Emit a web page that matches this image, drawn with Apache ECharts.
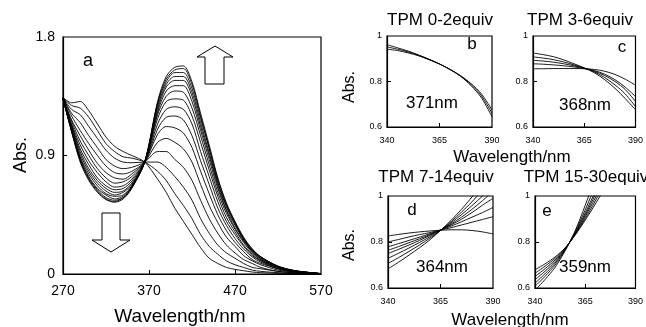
<!DOCTYPE html>
<html>
<head>
<meta charset="utf-8">
<script src="https://cdn.jsdelivr.net/npm/echarts@6/dist/echarts.min.js"></script>
<style>
  html, body { margin: 0; padding: 0; background: #fff; }
  #chart { width: 646px; height: 327px; }
</style>
</head>
<body>
<div id="chart"></div>
<script>
// panel a: full spectra during the titration
const mainWavelengths = [270, 280, 290, 300, 310, 320, 330, 340, 350, 365, 380, 390, 400, 410, 420, 430, 440, 450, 460, 470, 480, 490, 500, 520, 540, 570];
const mainSpectra = [
  [1.34, 1.30, 1.31, 1.24, 1.14, 1.04, 0.97, 0.93, 0.90, 0.85, 0.72, 0.62, 0.50, 0.40, 0.30, 0.20, 0.12, 0.08, 0.05, 0.035, 0.025, 0.015, 0.01, 0.005, 0.002, 0],
  [1.34, 1.28, 1.26, 1.19, 1.09, 0.99, 0.93, 0.89, 0.88, 0.85, 0.78, 0.71, 0.61, 0.52, 0.42, 0.30, 0.21, 0.15, 0.10, 0.07, 0.05, 0.03, 0.02, 0.01, 0.004, 0],
  [1.34, 1.25, 1.21, 1.12, 1.03, 0.94, 0.88, 0.85, 0.845, 0.85, 0.85, 0.81, 0.74, 0.66, 0.56, 0.42, 0.31, 0.22, 0.16, 0.12, 0.08, 0.05, 0.04, 0.02, 0.007, 0.001],
  [1.34, 1.22, 1.15, 1.05, 0.96, 0.87, 0.82, 0.80, 0.81, 0.85, 0.93, 0.93, 0.87, 0.81, 0.71, 0.56, 0.42, 0.31, 0.22, 0.16, 0.11, 0.08, 0.05, 0.02, 0.01, 0.001],
  [1.335, 1.20, 1.09, 0.99, 0.90, 0.82, 0.77, 0.76, 0.78, 0.85, 1.00, 1.03, 1.00, 0.95, 0.85, 0.68, 0.52, 0.39, 0.28, 0.21, 0.14, 0.10, 0.07, 0.03, 0.013, 0.001],
  [1.33, 1.17, 1.05, 0.94, 0.84, 0.77, 0.73, 0.72, 0.76, 0.85, 1.06, 1.12, 1.11, 1.07, 0.96, 0.78, 0.61, 0.45, 0.33, 0.24, 0.17, 0.11, 0.08, 0.04, 0.015, 0.002],
  [1.33, 1.16, 1.01, 0.90, 0.80, 0.73, 0.69, 0.70, 0.74, 0.85, 1.10, 1.19, 1.20, 1.17, 1.05, 0.86, 0.68, 0.50, 0.37, 0.27, 0.19, 0.13, 0.09, 0.04, 0.017, 0.002],
  [1.33, 1.14, 0.98, 0.86, 0.77, 0.70, 0.66, 0.67, 0.72, 0.85, 1.14, 1.25, 1.27, 1.25, 1.14, 0.93, 0.74, 0.55, 0.40, 0.30, 0.21, 0.14, 0.10, 0.04, 0.019, 0.002],
  [1.33, 1.13, 0.95, 0.83, 0.73, 0.67, 0.64, 0.65, 0.705, 0.85, 1.18, 1.31, 1.33, 1.32, 1.20, 1.00, 0.79, 0.59, 0.43, 0.32, 0.22, 0.15, 0.10, 0.05, 0.02, 0.002],
  [1.33, 1.12, 0.93, 0.80, 0.71, 0.65, 0.62, 0.63, 0.69, 0.85, 1.21, 1.35, 1.39, 1.38, 1.26, 1.05, 0.83, 0.62, 0.46, 0.34, 0.24, 0.16, 0.11, 0.05, 0.021, 0.002],
  [1.33, 1.11, 0.91, 0.78, 0.69, 0.63, 0.60, 0.62, 0.68, 0.85, 1.23, 1.39, 1.43, 1.43, 1.31, 1.09, 0.87, 0.65, 0.48, 0.35, 0.25, 0.17, 0.11, 0.05, 0.022, 0.003],
  [1.33, 1.10, 0.89, 0.76, 0.67, 0.61, 0.59, 0.60, 0.67, 0.85, 1.25, 1.42, 1.47, 1.47, 1.35, 1.12, 0.90, 0.67, 0.49, 0.37, 0.26, 0.17, 0.12, 0.055, 0.023, 0.003],
  [1.33, 1.09, 0.88, 0.74, 0.65, 0.60, 0.57, 0.59, 0.666, 0.85, 1.27, 1.44, 1.50, 1.50, 1.38, 1.15, 0.92, 0.69, 0.51, 0.38, 0.26, 0.18, 0.12, 0.056, 0.024, 0.003],
  [1.33, 1.09, 0.87, 0.73, 0.64, 0.58, 0.56, 0.58, 0.66, 0.85, 1.29, 1.46, 1.53, 1.53, 1.41, 1.18, 0.95, 0.70, 0.52, 0.39, 0.27, 0.18, 0.13, 0.058, 0.024, 0.003],
  [1.33, 1.08, 0.86, 0.72, 0.63, 0.57, 0.55, 0.58, 0.655, 0.85, 1.30, 1.48, 1.55, 1.56, 1.44, 1.20, 0.96, 0.72, 0.53, 0.39, 0.27, 0.19, 0.13, 0.059, 0.025, 0.003],
  [1.33, 1.08, 0.85, 0.71, 0.62, 0.565, 0.545, 0.57, 0.65, 0.85, 1.31, 1.50, 1.57, 1.58, 1.46, 1.22, 0.98, 0.73, 0.54, 0.40, 0.28, 0.19, 0.13, 0.06, 0.025, 0.003]
];
const mainXTicks = [270, 370, 470, 570];
const mainYTicks = [0, 0.9, 1.8];

// panels b-e: isosbestic region close-ups
const zoomWavelengths = [340, 345, 350, 355, 360, 365, 370, 375, 380, 385, 390];
const spectraB = [
  [0.962, 0.948, 0.934, 0.917, 0.898, 0.877, 0.853, 0.823, 0.782, 0.728, 0.645],
  [0.952, 0.942, 0.930, 0.915, 0.897, 0.877, 0.853, 0.824, 0.787, 0.737, 0.660],
  [0.942, 0.936, 0.926, 0.913, 0.896, 0.877, 0.853, 0.826, 0.791, 0.745, 0.675]
];
const spectraC = [
  [0.925, 0.918, 0.909, 0.895, 0.878, 0.860, 0.838, 0.808, 0.770, 0.725, 0.676],
  [0.908, 0.903, 0.896, 0.886, 0.873, 0.859, 0.842, 0.817, 0.785, 0.745, 0.690],
  [0.893, 0.890, 0.885, 0.878, 0.869, 0.858, 0.845, 0.826, 0.800, 0.765, 0.712],
  [0.878, 0.876, 0.873, 0.869, 0.864, 0.857, 0.848, 0.832, 0.808, 0.775, 0.734],
  [0.856, 0.856, 0.857, 0.857, 0.857, 0.856, 0.853, 0.845, 0.831, 0.810, 0.784]
];
const spectraD = [
  [0.826, 0.833, 0.839, 0.844, 0.848, 0.851, 0.853, 0.853, 0.850, 0.844, 0.835],
  [0.800, 0.811, 0.822, 0.832, 0.841, 0.852, 0.862, 0.874, 0.886, 0.898, 0.910],
  [0.779, 0.793, 0.807, 0.821, 0.836, 0.852, 0.869, 0.888, 0.908, 0.928, 0.950],
  [0.764, 0.780, 0.797, 0.814, 0.832, 0.852, 0.874, 0.899, 0.928, 0.960, 0.990],
  [0.750, 0.768, 0.787, 0.807, 0.829, 0.852, 0.878, 0.908, 0.942, 0.980, 1.020],
  [0.729, 0.751, 0.774, 0.798, 0.823, 0.851, 0.883, 0.919, 0.958, 1.000, 1.045],
  [0.707, 0.732, 0.759, 0.787, 0.817, 0.850, 0.888, 0.930, 0.975, 1.025, 1.070],
  [0.683, 0.712, 0.743, 0.775, 0.810, 0.850, 0.894, 0.942, 0.996, 1.050, 1.100]
];
const wavelengthsE = [340, 345, 350, 355, 360, 365, 370, 375, 380];
const spectraE = [
  [0.679, 0.705, 0.735, 0.775, 0.830, 0.895, 0.965, 1.040, 1.120],
  [0.664, 0.695, 0.729, 0.773, 0.832, 0.902, 0.978, 1.060, 1.140],
  [0.650, 0.684, 0.722, 0.771, 0.835, 0.910, 0.992, 1.080, 1.160],
  [0.636, 0.673, 0.715, 0.769, 0.838, 0.918, 1.006, 1.100, 1.190],
  [0.621, 0.662, 0.708, 0.767, 0.841, 0.927, 1.020, 1.120, 1.220],
  [0.607, 0.651, 0.700, 0.765, 0.845, 0.940, 1.045, 1.150, 1.250],
  [0.590, 0.637, 0.690, 0.762, 0.849, 0.960, 1.080, 1.190, 1.290]
];
const zoomXTicks = [340, 365, 390];
const zoomYTicks = [0.6, 0.8, 1];

const FONT = '"Liberation Sans", Arial, sans-serif';

const grids = [
  { left: 63, top: 37, width: 258, height: 237 },
  { left: 387, top: 36, width: 105, height: 91 },
  { left: 533, top: 36, width: 104, height: 91 },
  { left: 388, top: 196, width: 105, height: 92 },
  { left: 535, top: 196, width: 103, height: 92 }
].map((g) => ({ ...g, show: true, borderColor: "#000", borderWidth: 1.2, backgroundColor: "transparent" }));

function xAxis(gridIndex, min, max, ticks, fontSize, margin) {
  return {
    type: "value", gridIndex, min, max,
    axisLine: { lineStyle: { color: "#000", width: 1.2 } },
    axisTick: { inside: true, length: 4, customValues: ticks.slice(1, -1), lineStyle: { color: "#000" } },
    axisLabel: { customValues: ticks, color: "#000", fontSize, fontFamily: FONT, margin },
    splitLine: { show: false }
  };
}

function yAxis(gridIndex, min, max, ticks, fontSize, margin, fmt) {
  return {
    type: "value", gridIndex, min, max,
    axisLine: { show: true, lineStyle: { color: "#000", width: 1.2 } },
    axisTick: { show: true, inside: true, length: 4, customValues: ticks.slice(1, -1), lineStyle: { color: "#000" } },
    axisLabel: { customValues: ticks, color: "#000", fontSize, fontFamily: FONT, margin, formatter: fmt },
    splitLine: { show: false }
  };
}

function lines(gridIndex, xs, rows, width) {
  return rows.map((row) => ({
    type: "line", xAxisIndex: gridIndex, yAxisIndex: gridIndex,
    data: row.map((v, i) => [xs[i], v]),
    showSymbol: false, smooth: 0.3, silent: true, clip: true,
    lineStyle: { color: "#000", width }
  }));
}

function label(text, x, y, size, extra) {
  return {
    type: "text", x, y, silent: true, ...(extra || {}),
    style: { text, fill: "#000", font: size + "px " + FONT, align: "center", verticalAlign: "middle" }
  };
}

const chart = echarts.init(document.getElementById("chart"), null, { renderer: "canvas" });
chart.setOption({
  animation: false,
  backgroundColor: "#fff",
  grid: grids,
  xAxis: [
    xAxis(0, 270, 570, mainXTicks, 14, 10),
    xAxis(1, 340, 390, zoomXTicks, 9, 9),
    xAxis(2, 340, 390, zoomXTicks, 9, 9),
    xAxis(3, 340, 390, zoomXTicks, 9, 9),
    xAxis(4, 340, 390, zoomXTicks, 9, 9)
  ],
  yAxis: [
    yAxis(0, 0, 1.8, mainYTicks, 14, 8, (v) => (v === 0 ? "0" : v.toFixed(1))),
    yAxis(1, 0.6, 1, zoomYTicks, 9, 5, (v) => (v === 1 ? "1" : v.toFixed(1))),
    yAxis(2, 0.6, 1, zoomYTicks, 9, 5, (v) => (v === 1 ? "1" : v.toFixed(1))),
    yAxis(3, 0.6, 1, zoomYTicks, 9, 5, (v) => (v === 1 ? "1" : v.toFixed(1))),
    yAxis(4, 0.6, 1, zoomYTicks, 9, 5, (v) => (v === 1 ? "1" : v.toFixed(1)))
  ],
  series: [
    ...lines(0, mainWavelengths, mainSpectra, 0.9),
    ...lines(1, zoomWavelengths, spectraB, 0.9),
    ...lines(2, zoomWavelengths, spectraC, 0.9),
    ...lines(3, zoomWavelengths, spectraD, 0.9),
    ...lines(4, wavelengthsE, spectraE, 0.9)
  ],
  graphic: [
    label("Abs.", 21, 155, 18, { rotation: Math.PI / 2 }),
    label("Wavelength/nm", 180, 317, 19),
    label("a", 88, 61, 18),
    {
      type: "polygon", silent: true,
      shape: { points: [[215, 46], [233, 57], [224, 57], [224, 84], [205, 84], [205, 57], [197, 57]] },
      style: { fill: "#fff", stroke: "#000", lineWidth: 1 }
    },
    {
      type: "polygon", silent: true,
      shape: { points: [[102, 213], [120, 213], [120, 240], [130, 240], [111, 252], [92, 240], [102, 240]] },
      style: { fill: "#fff", stroke: "#000", lineWidth: 1 }
    },
    label("TPM 0-2equiv", 440, 20, 17),
    label("TPM 3-6equiv", 580, 20, 17),
    label("TPM 7-14equiv", 436, 177, 17),
    label("TPM 15-30equiv", 586, 177, 17),
    label("Abs.", 350, 87, 16, { rotation: Math.PI / 2 }),
    label("Abs.", 350, 245, 16, { rotation: Math.PI / 2 }),
    label("Wavelength/nm", 512, 157, 17),
    label("Wavelength/nm", 510, 320, 17),
    label("b", 472, 44, 17),
    label("c", 622, 47, 17),
    label("d", 412, 210, 17),
    label("e", 547, 211, 17),
    label("371nm", 432, 103, 17),
    label("368nm", 585, 105, 17),
    label("364nm", 442, 267, 17),
    label("359nm", 585, 267, 17)
  ]
});
</script>
</body>
</html>
